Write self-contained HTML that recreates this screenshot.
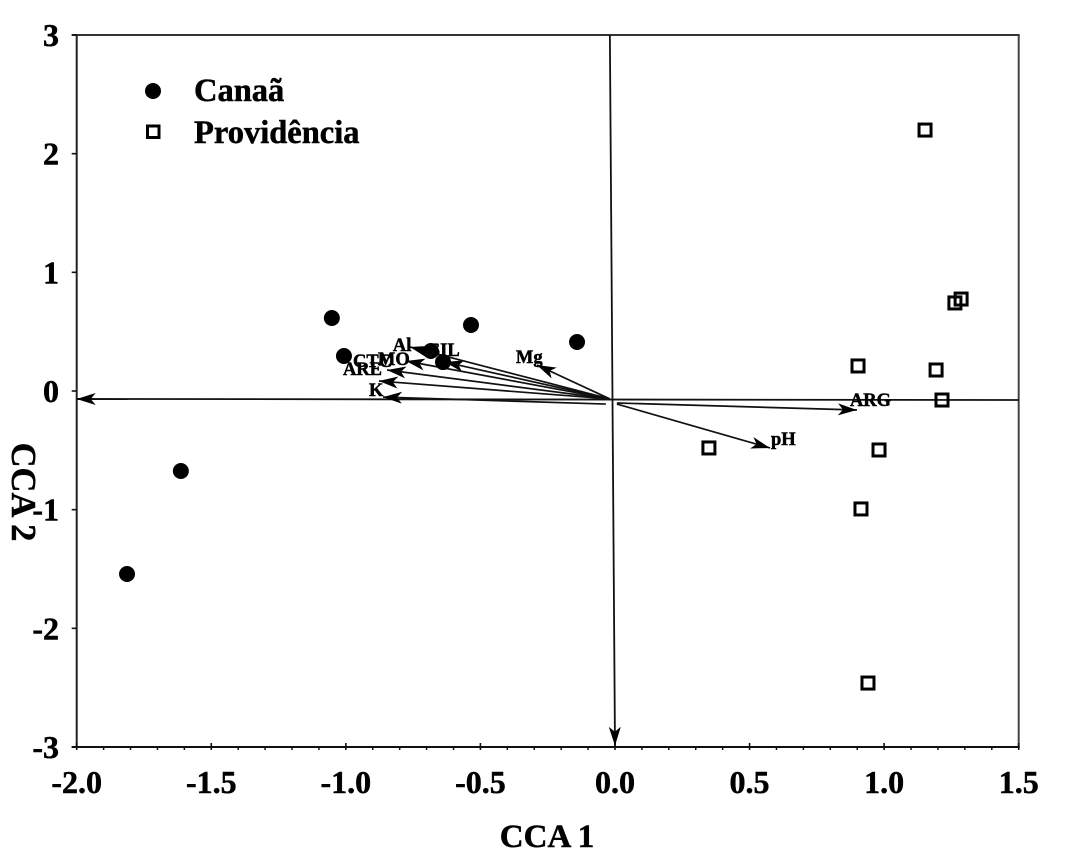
<!DOCTYPE html>
<html>
<head>
<meta charset="utf-8">
<style>
html,body{margin:0;padding:0;background:#fff;}
svg{display:block;}
text{font-family:"Liberation Serif",serif;font-weight:bold;fill:#000;stroke:#000;stroke-width:0.5px;}
</style>
</head>
<body>
<svg id="chart" width="1068" height="861" viewBox="0 0 1068 861" xmlns="http://www.w3.org/2000/svg">
  <rect x="0" y="0" width="1068" height="861" fill="#fff"/>
  <text x="547" y="847" font-size="33" text-anchor="middle">CCA 1</text>
  <text transform="translate(12,492) rotate(90)" font-size="34.500" text-anchor="middle">CCA 2</text>
  <g>
    <circle cx="153" cy="91" r="8" fill="#000"/>
    <text x="194" y="101" font-size="32.500">Canaã</text>
    <rect x="147.500" y="126" width="11.500" height="11.500" fill="#fff" stroke="#000" stroke-width="3"/>
    <text x="194" y="143" font-size="32.500">Providência</text>
  </g>
</svg>
<script>
// Axis ticks
const xTickLabels = ["-2.0", "-1.5", "-1.0", "-0.5", "0.0", "0.5", "1.0", "1.5"];
const xTickValues = [-2, -1.5, -1, -0.5, 0, 0.5, 1, 1.5];
const yTickLabels = ["3", "2", "1", "0", "-1", "-2", "-3"];
const yTickValues = [3, 2, 1, 0, -1, -2, -3];

// Site scores
const canaaX = [-1.052, -1.007, -0.684, -0.639, -0.535, -0.141, -1.613, -1.813];
const canaaY = [0.615, 0.295, 0.337, 0.244, 0.556, 0.413, -0.674, -1.542];
const providenciaX = [1.152, 1.286, 1.263, 0.903, 1.193, 1.215, 0.981, 0.349, 0.914, 0.940];
const providenciaY = [2.199, 0.775, 0.742, 0.211, 0.177, -0.076, -0.497, -0.480, -0.994, -2.461];

// Environmental vectors
const envNames = ["Mg", "SIL", "Al", "MO", "CTC", "ARE", "K", "ARG", "pH"];
const envStartX = [-0.019, -0.019, -0.019, -0.019, -0.019, -0.019, -0.034, 0.007, 0.007];
const envStartY = [-0.067, -0.067, -0.067, -0.067, -0.067, -0.067, -0.110, -0.101, -0.110];
const envTipX = [-0.290, -0.632, -0.762, -0.777, -0.847, -0.877, -0.862, 0.899, 0.576];
const envTipY = [0.219, 0.244, 0.371, 0.253, 0.177, 0.084, -0.051, -0.160, -0.480];

// Reference axes drawn inside the plot (from, to)
const refHorizontalX = [1.5, -2];
const refHorizontalY = [-0.076, -0.067];
const refVerticalX = [-0.019, 0];
const refVerticalY = [3, -2.99];

const NS = "http://www.w3.org/2000/svg";
const svg = document.getElementById("chart");
const X0 = 76.7, X1 = 1018.7, Y0 = 747, Y1 = 35;
function sx(v) { return X0 + (v + 2) * (X1 - X0) / 3.5; }
function sy(v) { return Y0 - (v + 3) * (Y0 - Y1) / 6; }
function make(tag, attrs) {
  const el = document.createElementNS(NS, tag);
  for (const k in attrs) el.setAttribute(k, attrs[k]);
  return el;
}
function arrowHeadPoints(x1, y1, x2, y2, len, half, notch) {
  const d = Math.hypot(x2 - x1, y2 - y1) || 1;
  const ux = (x2 - x1) / d, uy = (y2 - y1) / d;
  const nx = -uy, ny = ux;
  const p = [
    [x2, y2],
    [x2 - ux * len + nx * half, y2 - uy * len + ny * half],
    [x2 - ux * notch, y2 - uy * notch],
    [x2 - ux * len - nx * half, y2 - uy * len - ny * half]
  ];
  return p.map(function (q) { return q[0].toFixed(1) + "," + q[1].toFixed(1); }).join(" ");
}

// Frame
const frameTop = make("line", {x1: X0 - 5, y1: Y1, x2: X1 + 1, y2: Y1, stroke: "#333", "stroke-width": 2});


svg.appendChild(frameTop);
const frameRight = make("line", {x1: X1, y1: Y1, x2: X1, y2: Y0, stroke: "#444", "stroke-width": 2});


svg.appendChild(frameRight);
const frameLeft = make("line", {x1: X0, y1: Y1, x2: X0, y2: Y0, stroke: "#222", "stroke-width": 2});


svg.appendChild(frameLeft);
const frameBottom = make("line", {x1: X0 - 5, y1: Y0, x2: X1 + 1, y2: Y0, stroke: "#111", "stroke-width": 2});


svg.appendChild(frameBottom);

// X ticks
xTickValues.forEach(function (v, i) {
  const t = make("line", {x1: sx(v), y1: Y0 - 4, x2: sx(v), y2: Y0 + 3, stroke: "#111", "stroke-width": 1.600});
  
  
  svg.appendChild(t);
  const l = make("text", {x: sx(v), y: 793, "font-size": 32, "text-anchor": "middle"});
  l.textContent = xTickLabels[i];
  
  
  svg.appendChild(l);
});
for (let k = -19; k < 15; k++) {
  if (k % 5 === 0) continue;
  const v = k / 10;
  const m = make("line", {x1: sx(v), y1: Y0, x2: sx(v), y2: Y0 + 3, stroke: "#111", "stroke-width": 1.500});
  
  
  svg.appendChild(m);
}

// Y ticks
yTickValues.forEach(function (v, i) {
  const t = make("line", {x1: X0 - 5, y1: sy(v), x2: X0, y2: sy(v), stroke: "#111", "stroke-width": 1.600});
  
  
  svg.appendChild(t);
  const l = make("text", {x: 59, y: sy(v) + 11, "font-size": 32, "text-anchor": "end"});
  l.textContent = yTickLabels[i];
  
  
  svg.appendChild(l);
});

// Reference lines with arrowheads
function refLine(xs, ys, name) {
  const a = sx(xs[0]), b = sy(ys[0]), c = sx(xs[1]), d = sy(ys[1]);
  const g = make("g", {});
  
  
  g.appendChild(make("line", {x1: a, y1: b, x2: c, y2: d, stroke: "#111", "stroke-width": 1.800}));
  g.appendChild(make("polygon", {points: arrowHeadPoints(a, b, c, d, 19, 6, 14), fill: "#000"}));
  svg.appendChild(g);
}
refLine(refHorizontalX, refHorizontalY, "reference-axis-cca1");
refLine(refVerticalX, refVerticalY, "reference-axis-cca2");

// Environmental arrows
const labelOffsets = {
  Mg: [-21, -2], SIL: [-15, -6], Al: [-17, 4], MO: [-28, 4], CTC: [-34, -3],
  ARE: [-36, -6], K: [-14, -1], ARG: [-7, -4], pH: [1, -3]
};
envNames.forEach(function (name, i) {
  const a = sx(envStartX[i]), b = sy(envStartY[i]), c = sx(envTipX[i]), d = sy(envTipY[i]);
  const g = make("g", {});
  
  
  g.appendChild(make("line", {x1: a, y1: b, x2: c, y2: d, stroke: "#111", "stroke-width": 1.700}));
  g.appendChild(make("polygon", {points: arrowHeadPoints(a, b, c, d, 19, 6, 14), fill: "#000"}));
  svg.appendChild(g);
  const off = labelOffsets[name];
  const t = make("text", {x: c + off[0], y: d + off[1], "font-size": 18.500});
  t.textContent = name;
  
  
  svg.appendChild(t);
});

// Canaã points
canaaX.forEach(function (v, i) {
  const c = make("circle", {cx: sx(v), cy: sy(canaaY[i]), r: 8, fill: "#000"});
  
  
  svg.appendChild(c);
});

// Providência points
providenciaX.forEach(function (v, i) {
  const r = make("rect", {x: sx(v) - 6, y: sy(providenciaY[i]) - 6, width: 12, height: 12, fill: "none", stroke: "#000", "stroke-width": 3});
  
  
  svg.appendChild(r);
});
</script>
</body>
</html>
